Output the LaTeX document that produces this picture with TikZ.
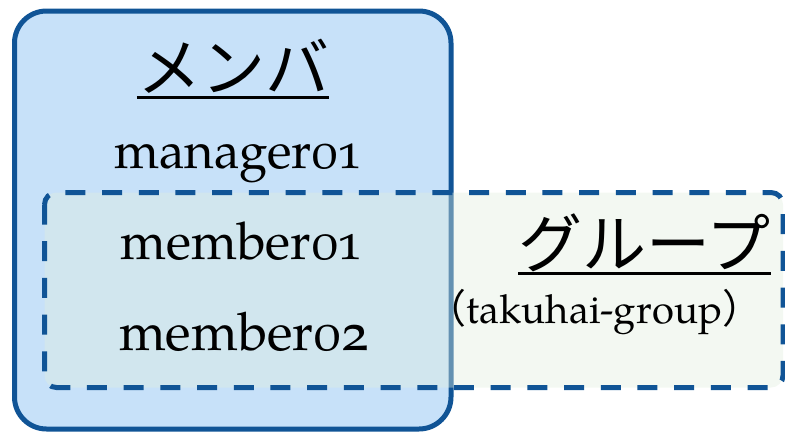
\documentclass[tikz,border=0pt]{standalone}
\usepackage{fontspec}
\newfontfamily\cjk{Noto Sans CJK JP}
\newfontfamily\pag{texgyrepagella-regular}[Extension=.otf, Numbers=OldStyle]
\definecolor{lineblue}{RGB}{16,84,150}
\definecolor{fillblue}{RGB}{199,225,249}
\definecolor{fillgreen}{RGB}{225,238,222}
\begin{document}
\begin{tikzpicture}[x=1pt,y=-1pt,
  memberbox/.style={draw=lineblue, line width=5pt, fill=fillblue, rounded corners=32pt},
  groupbox/.style={draw=lineblue, line width=5pt, dash pattern=on 20pt off 16.7pt, fill=fillgreen, fill opacity=0.4, rounded corners=12pt},
  jtitle/.style={font=\cjk\fontsize{64}{70}\selectfont, inner sep=0pt, anchor=base},
  entry/.style={font=\pag\fontsize{52}{60}\selectfont, inner sep=0pt, anchor=base},
  gnamestyle/.style={font=\pag\fontsize{40}{48}\selectfont, inner sep=0pt, anchor=base},
  uline/.style={draw=black, line width=3pt}]
\useasboundingbox (0,0) rectangle (785,432);
% boxes
\path[memberbox] (14.5,11) rectangle (451,429);
\path[groupbox] (44.5,192.5) rectangle (783,387.5);
% member side
\node[jtitle] (mtitle) at (233,91) {メンバ};
\draw[uline] ([yshift=-6pt]mtitle.base west) -- ([yshift=-6pt]mtitle.base east);
\node[entry, font=\pag\fontsize{51}{60}\selectfont] (mgr) at (237.5,168) {manager01};
\node[entry] (mem1) at (241,259) {member01};
\node[entry, font=\pag\fontsize{53}{60}\selectfont] (mem2) at (244.5,350) {member02};
% group side
\node[jtitle] (gtitle) at (644.5,267) {グループ};
\draw[uline] ([yshift=-6pt]gtitle.base west) -- ([yshift=-6pt]gtitle.base east);
\node[gnamestyle] (gname) at (594.5,323) {{\cjk （}takuhai-group{\cjk ）}};
\end{tikzpicture}
\end{document}
